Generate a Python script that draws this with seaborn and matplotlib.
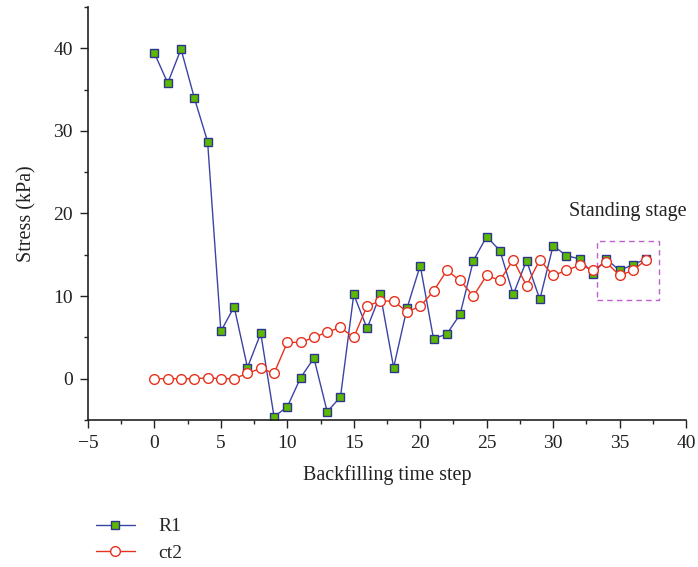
import matplotlib
matplotlib.use("Agg")
import matplotlib.pyplot as plt
import seaborn as sns
import pandas as pd
from matplotlib.patches import Rectangle
from matplotlib.ticker import MultipleLocator

steps = list(range(38))
r1 = [39.4, 35.8, 39.9, 34.0, 28.7, 5.75, 8.7, 1.35, 5.5, -4.6,
      -3.4, 0.12, 2.5, -4.0, -2.2, 10.2, 6.1, 10.2, 1.35, 8.5,
      13.7, 4.85, 5.4, 7.8, 14.3, 17.2, 15.5, 10.2, 14.3, 9.6,
      16.1, 14.9, 14.5, 12.7, 14.5, 13.1, 13.8, 14.5]
ct2 = [0.0, 0.0, 0.0, 0.0, 0.1, 0.0, 0.0, 0.65, 1.25, 0.65,
       4.4, 4.4, 5.0, 5.65, 6.2, 5.0, 8.8, 9.4, 9.4, 8.1,
       8.75, 10.6, 13.1, 11.9, 10.0, 12.5, 11.9, 14.4, 11.25, 14.4,
       12.5, 13.1, 13.75, 13.2, 14.1, 12.5, 13.1, 14.4]
series_names = ["R1", "ct2"]
x_label = "Backfilling time step"
y_label = "Stress (kPa)"
annotation = "Standing stage"

sns.set_style("ticks")
plt.rcParams["font.family"] = ["Liberation Serif", "DejaVu Serif"]
plt.rcParams["mathtext.fontset"] = "dejavuserif"

df = pd.DataFrame({"step": steps, "R1": r1, "ct2": ct2})

fig = plt.figure(figsize=(6.98, 5.67), dpi=100)
ax = fig.add_axes([88 / 698, 1 - 420 / 567, (686 - 88) / 698, (420 - 7) / 567])

sns.lineplot(data=df, x="step", y="R1", ax=ax, color="#3b44a6", lw=1.0,
             marker="s", markersize=6, markerfacecolor="#5cb800",
             markeredgecolor="#2e3590", markeredgewidth=1.0, label=series_names[0])
sns.lineplot(data=df, x="step", y="ct2", ax=ax, color="#e8321e", lw=1.0,
             marker="o", markersize=7, markerfacecolor="white",
             markeredgecolor="#e8321e", markeredgewidth=1.0, label=series_names[1])

ax.set_xlim(-5, 40)
ax.set_ylim(-5, 45)
ax.xaxis.set_major_locator(MultipleLocator(5))
ax.xaxis.set_minor_locator(MultipleLocator(2.5))
ax.yaxis.set_major_locator(MultipleLocator(10))
ax.yaxis.set_minor_locator(MultipleLocator(5))
ax.set_yticks([0, 10, 20, 30, 40])
ax.tick_params(which="major", direction="out", length=6, width=1.0, labelsize=14,
               colors="#222222", pad=5)
ax.tick_params(which="minor", direction="out", length=3, width=1.0)
for s in ["top", "right"]:
    ax.spines[s].set_visible(False)
for s in ["left", "bottom"]:
    ax.spines[s].set_linewidth(1.2)
    ax.spines[s].set_color("#222222")

ax.set_xlabel(x_label, fontsize=14.5, labelpad=9, color="#222222")
ax.set_ylabel(y_label, fontsize=14.5, labelpad=12, color="#222222")

ax.add_patch(Rectangle((33.3, 9.5), 4.7, 7.2, fill=False, edgecolor="#c060d0",
                       lw=1.0, ls=(0, (4, 3))))
ax.text(35.6, 20.2, annotation, fontsize=14.5, ha="center", va="center", color="#222222")

handles, labels = ax.get_legend_handles_labels()
ax.get_legend().remove()
fig.legend(handles, labels, loc="upper left", bbox_to_anchor=(88 / 698, 1 - 510 / 567),
           frameon=False, fontsize=14, handlelength=2.0, handletextpad=1.2,
           labelspacing=0.45, borderaxespad=0)

fig.savefig("out.png", dpi=100)
